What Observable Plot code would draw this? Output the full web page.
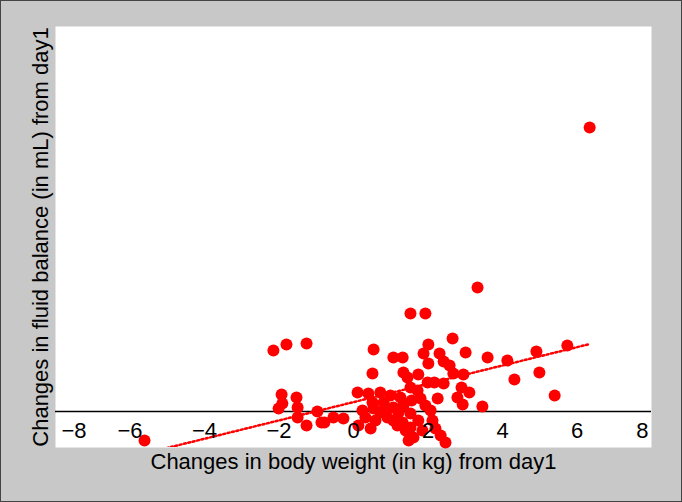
<!DOCTYPE html>
<html>
<head>
<meta charset="utf-8">
<script src="https://cdn.jsdelivr.net/npm/d3@7"></script>
<script src="https://cdn.jsdelivr.net/npm/@observablehq/plot@0.6"></script>
<style>
  html, body { margin: 0; padding: 0; background: #c8c8c8; }
  #chart { width: 682px; height: 502px; }
</style>
</head>
<body>
<div id="chart"></div>
<script>
// Changes in body weight (kg) from day 1
const weightChange = [
  6.34, 3.33, 1.53, 1.93, -2.15, -1.80, -1.26, 0.54, 0.51, 1.07,
  1.32, 2.01, 1.88, 2.66, 2.31, 3.01, 2.01, 2.42, 2.58, 2.68,
  2.95, 1.34, 1.45, 1.74, 1.99, 2.17, 2.42, 2.90, 3.11, 2.79,
  2.93, 2.26, 3.60, 4.13, 4.91, 5.74, 4.99, 4.32, 5.40, 3.46,
  -1.93, -1.53, -1.91, -2.01, -1.50, -1.50, -1.26, -0.97, -0.86, -0.78,
  -0.54, -0.27, -5.61,
  0.11, 0.40, 0.13, 0.24, 0.51, 0.54, 0.59, 0.46, 0.81, 0.99,
  1.07, 1.07, 0.91, 1.26, 1.34, 1.32, 1.40, 1.48, 1.53, 1.56,
  1.53, 1.53, 1.61, 2.07, 2.12, 2.20, 2.34, 2.47, 1.85, 1.80,
  1.72, 0.72, 1.21, 0.86, 1.18, 0.72, 0.32, 1.74, 1.93
];
// Changes in fluid balance (mL) from day 1
const fluidChange = [
  7100, 3100, 2450, 2450, 1525, 1675, 1700, 1550, 950, 1350,
  1350, 1675, 1450, 1825, 1450, 1475, 1200, 1250, 1150, 950,
  925, 975, 850, 925, 725, 725, 700, 600, 475, 350,
  175, 325, 1350, 1275, 1500, 1650, 975, 800, 400, 125,
  425, 350, 200, 75, 100, -150, -350, 0, -275, -275,
  -150, -175, -725,
  475, 450, -350, 25, 225, 75, -225, -425, 225, 400,
  100, -225, -150, 350, 150, -275, -475, -725, 600, 275,
  -50, -400, -650, 25, -225, -425, -600, -775, -475, 325,
  525, -25, -25, -25, -350, 475, -150, -225, 150
];
const xTicks = [-8, -6, -4, -2, 0, 2, 4, 6, 8];
const xTitle = "Changes in body weight (in kg) from day1";
const yTitle = "Changes in fluid balance (in mL) from day1";

const data = weightChange.map((x, i) => ({x, y: fluidChange[i]}));
const fmt = d => String(d).replace("-", "\u2212");
const font = "'Liberation Sans', Arial, Helvetica, sans-serif";

const chart = Plot.plot({
  width: 682,
  height: 502,
  marginLeft: 55,
  marginRight: 31,
  marginTop: 26,
  marginBottom: 55,
  x: {domain: [-8, 8], axis: null},
  y: {domain: [-900, 9625], axis: null},
  style: {background: "#c8c8c8", fontFamily: font, color: "black"},
  marks: [
    Plot.frame({fill: "white", stroke: null}),
    Plot.ruleY([0], {stroke: "black", strokeWidth: 1.5}),
    Plot.dot(data, {x: "x", y: "y", r: 6, fill: "#ff0000"}),
    Plot.linearRegressionY(data, {x: "x", y: "y", stroke: "#ff0000", strokeWidth: 2.5, strokeDasharray: "2,2.5", ci: 0, clip: true}),
    Plot.text(xTicks.slice(1, -1), {x: d => d, text: fmt, frameAnchor: "bottom", dy: -10, fontSize: 22, fill: "black"}),
    Plot.text(xTicks.slice(0, 1), {x: d => d, text: fmt, frameAnchor: "bottom", dy: -10, dx: 6, textAnchor: "start", fontSize: 22, fill: "black"}),
    Plot.text(xTicks.slice(-1), {x: d => d, text: fmt, frameAnchor: "bottom", dy: -10, dx: -3, textAnchor: "end", fontSize: 22, fill: "black"}),
    Plot.text([xTitle], {text: d => d, frameAnchor: "bottom", dy: 21, fontSize: 22, fill: "black"}),
    Plot.text([yTitle], {text: d => d, frameAnchor: "left", dx: -15, rotate: -90, textAnchor: "middle", fontSize: 22, fill: "black"})
  ]
});
chart.style.outline = "1px solid #444";
chart.style.outlineOffset = "-1px";
chart.style.overflow = "visible";
document.getElementById("chart").appendChild(chart);
</script>
</body>
</html>
